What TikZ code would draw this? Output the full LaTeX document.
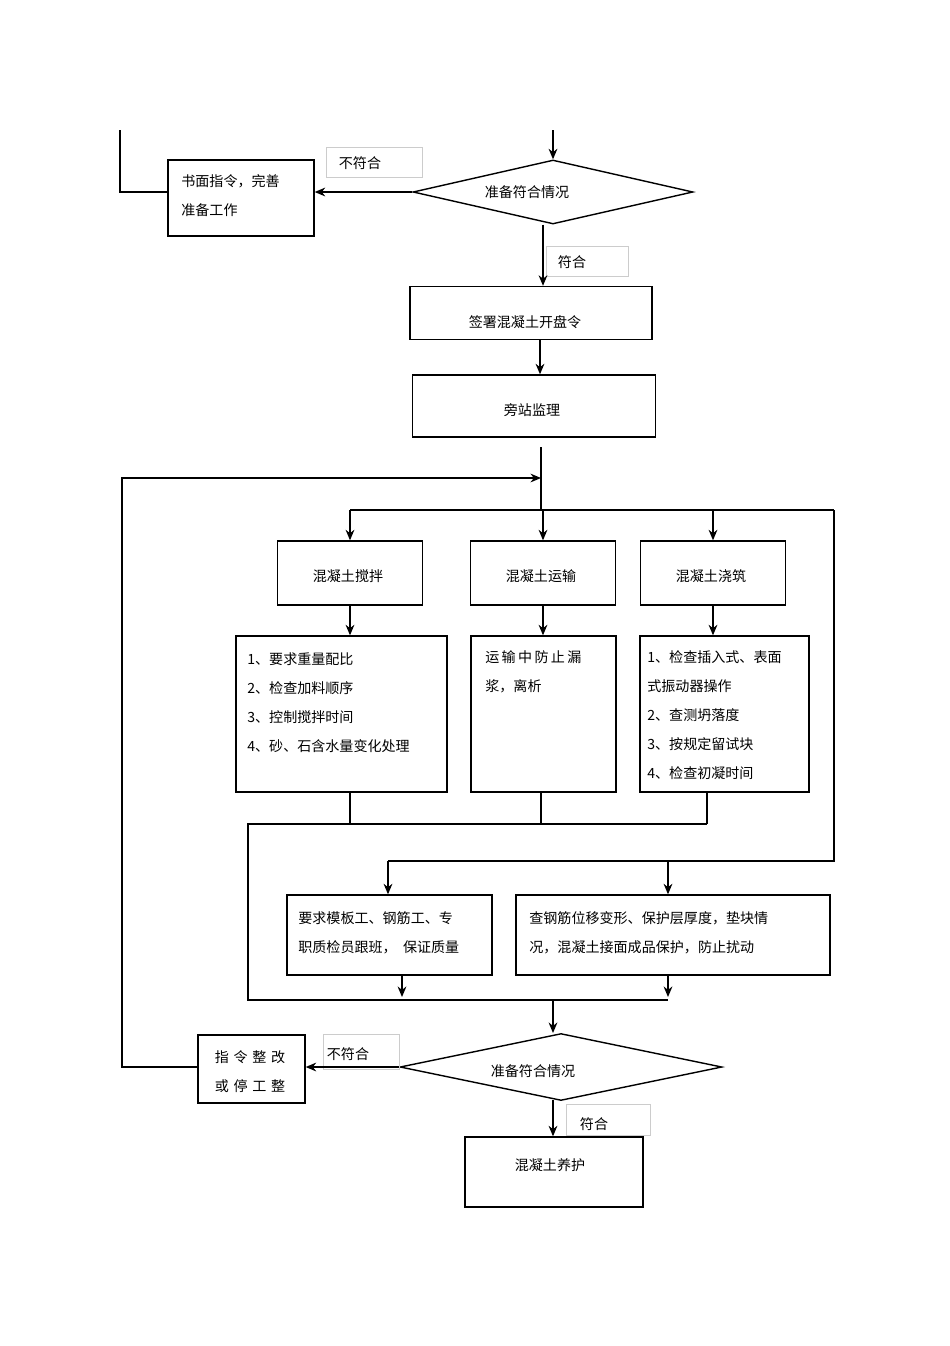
\documentclass[tikz,border=0pt]{standalone}
\usepackage{fontspec}
\setmainfont{Noto Sans CJK SC}
\usetikzlibrary{shapes.geometric,arrows.meta}
\tikzset{
  box/.style={draw,thick,rectangle,inner sep=0pt},
  lbl/.style={draw=gray!40,rectangle,inner sep=0pt,anchor=north west},
  dia/.style={draw,thick,diamond,inner sep=0pt,aspect=4.4},
  txt/.style={anchor=north west,align=left,inner sep=0pt},
  arr/.style={thick,-{Stealth[length=6pt,width=5pt]}},
  ln/.style={thick}
}
\begin{document}
\begin{tikzpicture}[x=0.02cm,y=-0.02cm,font=\fontsize{8}{16.5}\selectfont]
\useasboundingbox (0,0) rectangle (950,1346);
% top part
\coordinate (in) at (553,130);
\node[dia,minimum width=5.6cm,minimum height=1.28cm] (d1) at (553,192) {};
\node at (527,192) {准备符合情况};
\node[box,minimum width=2.92cm,minimum height=1.52cm] (b1) at (241,198) {};
\node[txt] at (181,174) {书面指令，完善\\准备工作};
\node[lbl,minimum width=1.92cm,minimum height=0.6cm] (n1) at (326,147) {};
\node at (360,163) {不符合};
\node[lbl,minimum width=1.64cm,minimum height=0.6cm] (y1) at (546,246) {};
\node at (572,262) {符合};
\node[box,minimum width=4.84cm,minimum height=1.06cm] (b2) at (531,313) {};
\node at (525,322) {签署混凝土开盘令};
\node[box,minimum width=4.86cm,minimum height=1.24cm] (b3) at (534,406) {};
\node at (532,410) {旁站监理};
\draw[arr] (in) -- (d1.north);
\draw[ln] (120,130) |- (b1.west |- d1.west);
\draw[arr] (d1.west) -- (d1.west -| b1.east);
\draw[arr] (d1.south -| 543,0) -- (b2.north -| 543,0);
\draw[arr] (b2.south -| 540,0) -- (b3.north -| 540,0);
% three tasks
\coordinate (hub) at (541,510);
\draw[ln] (541,447) -- (hub);
\foreach \n/\x/\t in {m/350/混凝土搅拌,t/543/混凝土运输,p/713/混凝土浇筑}{
  \node[box,minimum width=2.9cm,minimum height=1.28cm] (\n) at (\x,573) {};
  \node at (\x-2,576) {\t};
}
\draw[ln] (350,510) -- (834,510);
\foreach \n/\x in {m/350,t/543,p/713}
  \draw[arr] (\x,510) -- (\n.north);
\node[box,minimum width=4.22cm,minimum height=3.12cm] (m2) at (341.5,714) {};
\node[box,minimum width=2.9cm,minimum height=3.12cm] (t2) at (543.5,714) {};
\node[box,minimum width=3.38cm,minimum height=3.12cm] (p2) at (724.5,714) {};
\draw[arr] (m.south) -- (m2.north -| m.south);
\draw[arr] (t.south) -- (t2.north -| t.south);
\draw[arr] (p.south) -- (p2.north -| p.south);
\node[txt] at (247,652) {1、要求重量配比\\2、检查加料顺序\\3、控制搅拌时间\\4、砂、石含水量变化处理};
\node[txt] at (485,650) {运\,输\,中\,防\,止\,漏\\浆，离析};
\node[txt] at (647,650) {1、检查插入式、表面\\式振动器操作\\2、查测坍落度\\3、按规定留试块\\4、检查初凝时间};
% collect
\draw[ln] (350,792) -- (350,824);
\draw[ln] (541,792) -- (541,824);
\draw[ln] (707,792) -- (707,824);
\draw[ln] (707,824) -- (248,824) -- (248,1000) -- (668,1000);
% two checks
\node[box,minimum width=4.1cm,minimum height=1.6cm] (q1) at (389.5,935) {};
\node[box,minimum width=6.28cm,minimum height=1.6cm] (q2) at (673,935) {};
\node[txt] at (298,911) {要求模板工、钢筋工、专\\职质检员跟班，\ \ 保证质量};
\node[txt] at (529,911) {查钢筋位移变形、保护层厚度，垫块情\\况，混凝土接面成品保护，防止扰动};
\draw[ln] (hub -| 834,0) -- (834,861) -- (388,861);
\draw[arr] (388,861) -- (q1.north -| 388,0);
\draw[arr] (668,861) -- (q2.north -| 668,0);
\draw[arr] (q1.south -| 402,0) -- (402,997);
\draw[arr] (q2.south -| 668,0) -- (668,997);
% final check
\node[dia,minimum width=6.44cm,minimum height=1.34cm] (d2) at (561,1067) {};
\node at (533,1071) {准备符合情况};
\draw[arr] (553,1000) -- (553,1033);
\node[box,minimum width=2.14cm,minimum height=1.36cm] (b4) at (251.5,1069) {};
\node[align=left] at (250,1072) {指\,\,令\,\,整\,\,改\\或\,\,停\,\,工\,\,整};
\node[lbl,minimum width=1.52cm,minimum height=0.7cm] (n2) at (323,1034) {};
\node at (348,1054) {不符合};
\draw[arr] (d2.west) -- (d2.west -| b4.east);
\draw[arr] (b4.west |- d2.west) -- (122,1067) -- (122,478) -- (hub |- 0,478);
\node[lbl,minimum width=1.68cm,minimum height=0.62cm] (y2) at (566,1104) {};
\node at (594,1124) {符合};
\node[box,minimum width=3.56cm,minimum height=1.4cm] (b5) at (554,1172) {};
\node at (550,1165) {混凝土养护};
\draw[arr] (553,1100) -- (b5.north -| 553,0);
\end{tikzpicture}
\end{document}
